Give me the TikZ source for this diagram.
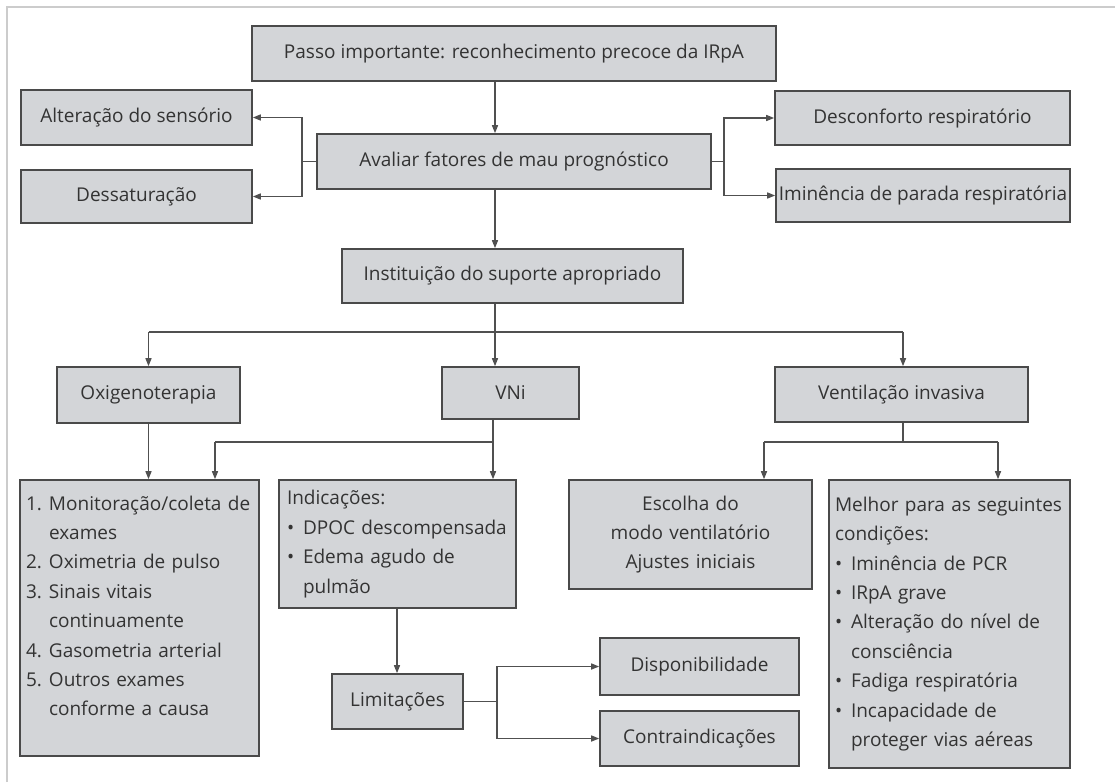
\documentclass[tikz,border=0pt]{standalone}
\usepackage{fontspec}
\setmainfont{Open Sans}
\usetikzlibrary{arrows.meta,calc}
\definecolor{boxfill}{HTML}{D3D5D8}
\definecolor{boxline}{HTML}{4A4A4A}
\definecolor{ink}{HTML}{333333}
\definecolor{wire}{HTML}{505050}
\definecolor{framegray}{HTML}{CCCCCC}
\newcommand{\itm}[1]{\makebox[23pt][l]{#1}}
\newcommand{\blt}{\makebox[16pt][l]{\textbullet}}
\newcommand{\cnt}{\makebox[16pt]{}}
\begin{document}
\begin{tikzpicture}[x=1pt,y=-1pt,
  every node/.style={font=\fontsize{19}{29.4}\selectfont, text=ink},
  box/.style={draw=boxline, line width=1.6pt, fill=boxfill, inner sep=0pt, rectangle},
  link/.style={draw=wire, line width=1.4pt, -{Triangle[length=8pt,width=6pt]}},
  wire/.style={draw=wire, line width=1.4pt}]
\useasboundingbox (0,0) rectangle (1115,782);

% outer frame (top and left rules)
\draw[framegray, line width=2pt] (7,782) -- (7,7) -- (1115,7);

% top chain
\node[box, minimum width=524, minimum height=55] (top) at (514,53.5) {Passo importante: reconhecimento precoce da IRpA};
\node[box, minimum width=394, minimum height=55] (ava) at (514,161.5) {Avaliar fatores de mau prognóstico};
\node[box, minimum width=231, minimum height=55] (alt) at (136.5,117.5) {Alteração do sensório};
\node[box, minimum width=231, minimum height=53] (des) at (136.5,196.5) {Dessaturação};
\node[box, minimum width=295, minimum height=54] (dcf) at (922.5,118) {Desconforto respiratório};
\node[box, minimum width=294, minimum height=53] (imi) at (923,195.5) {Iminência de parada respiratória};
\node[box, minimum width=341, minimum height=54] (ins) at (512.5,276) {Instituição do suporte apropriado};

% support branches
\node[box, minimum width=183, minimum height=56] (oxi) at (148.5,395) {Oxigenoterapia};
\node[box, minimum width=137, minimum height=52] (vni) at (510.5,393) {VNi};
\node[box, minimum width=253, minimum height=55] (ven) at (901.5,394.5) {Ventilação invasiva};

% detail boxes
\node[box, minimum width=239, minimum height=276, text width=227, align=left] (lst) at (139.5,618) {%
\itm{1.}Monitoração/coleta de\\
\itm{}exames\\
\itm{2.}Oximetria de pulso\\
\itm{3.}Sinais vitais\\
\itm{}continuamente\\
\itm{4.}Gasometria arterial\\
\itm{5.}Outros exames\\
\itm{}conforme a causa\\[-5pt]\mbox{}};
\node[box, minimum width=237, minimum height=128, text width=221, align=left] (ind) at (397.5,544) {%
Indicações:\\
\blt DPOC descompensada\\
\blt Edema agudo de\\
\cnt pulmão};
\node[box, minimum width=131, minimum height=55] (lim) at (397.5,701.5) {Limitações};
\node[box, minimum width=199, minimum height=57] (dsp) at (699.5,666.5) {Disponibilidade};
\node[box, minimum width=199, minimum height=55] (ctr) at (699.5,738.5) {Contraindicações};
\node[box, minimum width=243, minimum height=109, text width=221, align=center] (esc) at (690.5,534.5) {%
Escolha do\\ modo ventilatório\\ Ajustes iniciais};
\node[box, minimum width=241, minimum height=288, text width=229, align=left] (mel) at (949.5,624) {%
Melhor para as seguintes\\
condições:\\
\blt Iminência de PCR\\
\blt IRpA grave\\
\blt Alteração do nível de\\
\cnt consciência\\
\blt Fadiga respiratória\\
\blt Incapacidade de\\
\cnt proteger vias aéreas};

% guide coordinates for the routed connectors
\coordinate (spine) at (495,0);
\coordinate (lbus) at (302,0);
\coordinate (rbus) at (724,0);
\coordinate (sbus) at (0,332);
\coordinate (vbus) at (0,442);
\coordinate (vx) at (493,0);
\coordinate (lx) at (215,0);
\coordinate (wx) at (903,0);
\coordinate (ex) at (764,0);
\coordinate (mx) at (998,0);
\coordinate (ix) at (397,0);
\coordinate (kx) at (497,0);

% main spine
\draw[link] (top.south -| spine) -- (ava.north -| spine);
\draw[link] (ava.south -| spine) -- (ins.north -| spine);

% prognostic factors
\draw[wire] (ava.west) -- (ava.west -| lbus);
\draw[link] (ava.west -| lbus) |- (alt.east);
\draw[link] (ava.west -| lbus) |- (des.east);
\draw[wire] (ava.east) -- (ava.east -| rbus);
\draw[link] (ava.east -| rbus) |- (dcf.west);
\draw[link] (ava.east -| rbus) |- (imi.west);

% support options
\draw[wire] (ins.south -| spine) -- (sbus -| spine);
\draw[wire] (sbus -| oxi.north) -- (sbus -| wx);
\draw[link] (sbus -| oxi.north) -- (oxi.north);
\draw[link] (sbus -| spine) -- (vni.north -| spine);
\draw[link] (sbus -| wx) -- (ven.north -| wx);

% oxygen therapy and VNi
\draw[link] (oxi.south) -- (lst.north -| oxi.south);
\draw[wire] (vni.south -| vx) -- (vbus -| vx);
\draw[wire] (vbus -| vx) -- (vbus -| lx);
\draw[link] (vbus -| lx) -- (lst.north -| lx);
\draw[link] (vbus -| vx) -- (ind.north -| vx);
\draw[link] (ind.south -| ix) -- (lim.north -| ix);
\draw[wire] (lim.east) -- (lim.east -| kx);
\draw[link] (lim.east -| kx) |- (dsp.west);
\draw[link] (lim.east -| kx) |- (ctr.west);

% invasive ventilation
\draw[wire] (ven.south -| wx) -- (vbus -| wx);
\draw[wire] (vbus -| ex) -- (vbus -| mx);
\draw[link] (vbus -| ex) -- (esc.north -| ex);
\draw[link] (vbus -| mx) -- (mel.north -| mx);
\end{tikzpicture}
\end{document}
